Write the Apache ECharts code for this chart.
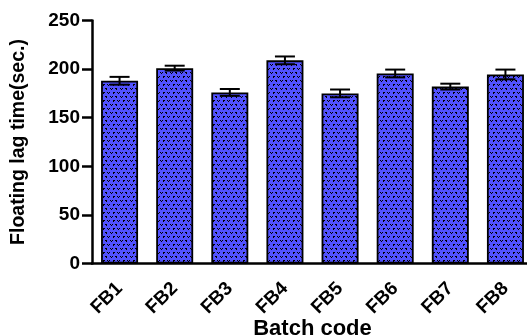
<!DOCTYPE html>
<html>
<head>
<meta charset="utf-8">
<script src="https://cdn.jsdelivr.net/npm/echarts@6/dist/echarts.min.js"></script>
<style>
html,body{margin:0;padding:0;background:#fff;}
#c{width:527px;height:336px;}
</style>
</head>
<body>
<div id="c"></div>
<script>
const categories = ['FB1','FB2','FB3','FB4','FB5','FB6','FB7','FB8'];
const lagTime = [188, 201, 176, 209, 175, 195.5, 182, 194.5];
const lagError = [4, 2.5, 3.5, 4, 4, 4, 3, 5];
const yTicks = [0, 50, 100, 150, 200, 250];

// dotted blue fill pattern
const pc = document.createElement('canvas');
pc.width = 10; pc.height = 8;
const g = pc.getContext('2d');
g.fillStyle = '#5252ff';
g.fillRect(0,0,10,8);
g.fillStyle = '#000';
const px = [[0,0],[2,0],[1,1],[5,0],[6,0],[6,1],
            [3,4],[4,4],[3,5],[7,4],[9,4],[8,5]];
px.forEach(p => g.fillRect(p[0], p[1], 1, 1));

const font = '"Liberation Sans", Arial, sans-serif';
const chart = echarts.init(document.getElementById('c'));
chart.setOption({
  animation: false,
  grid: {left: 92, top: 20.5, bottom: 72.5, width: 441, containLabel: false, outerBoundsMode: 'none'},
  xAxis: {
    type: 'category',
    data: categories,
    boundaryGap: true,
    name: 'Batch code',
    nameLocation: 'middle',
    nameGap: 54,
    nameMoveOverlap: false,
    nameTextStyle: {fontFamily: font, fontWeight: 'bold', fontSize: 22, color: '#000'},
    axisLine: {lineStyle: {color: '#000', width: 2.5}},
    axisTick: {alignWithLabel: true, length: 7, lineStyle: {color: '#000', width: 2.5}},
    axisLabel: {rotate: 45, margin: 22, fontFamily: font, fontWeight: 'bold', fontSize: 19, color: '#000'}
  },
  yAxis: {
    type: 'value',
    min: 0, max: 250, interval: 50,
    name: 'Floating lag time(sec.)',
    nameLocation: 'middle',
    nameGap: 63,
    nameMoveOverlap: false,
    nameTextStyle: {fontFamily: font, fontWeight: 'bold', fontSize: 19.5, color: '#000'},
    axisLine: {show: true, lineStyle: {color: '#000', width: 2.5}},
    axisTick: {show: true, length: 10, lineStyle: {color: '#000', width: 2.5}},
    axisLabel: {margin: 12, fontFamily: font, fontWeight: 'bold', fontSize: 19, color: '#000',
      formatter: v => yTicks.includes(v) ? String(v) : ''},
    splitLine: {show: false}
  },
  series: [
    {
      type: 'bar',
      data: lagTime,
      barWidth: 37,
      itemStyle: {color: {image: pc, repeat: 'repeat'}, borderColor: '#000', borderWidth: 1.8}
    },
    {
      type: 'custom',
      data: lagTime.map((v, i) => [i, v - lagError[i], v + lagError[i]]),
      renderItem: function (params, api) {
        const x = api.value(0);
        const lo = api.coord([x, api.value(1)]);
        const hi = api.coord([x, api.value(2)]);
        const hw = 10;
        const st = {stroke: '#000', lineWidth: 2};
        return {
          type: 'group',
          children: [
            {type: 'line', shape: {x1: hi[0], y1: hi[1], x2: lo[0], y2: lo[1]}, style: st},
            {type: 'line', shape: {x1: hi[0]-hw, y1: hi[1], x2: hi[0]+hw, y2: hi[1]}, style: st},
            {type: 'line', shape: {x1: lo[0]-hw, y1: lo[1], x2: lo[0]+hw, y2: lo[1]}, style: st}
          ]
        };
      },
      z: 5
    }
  ]
});
</script>
</body>
</html>
